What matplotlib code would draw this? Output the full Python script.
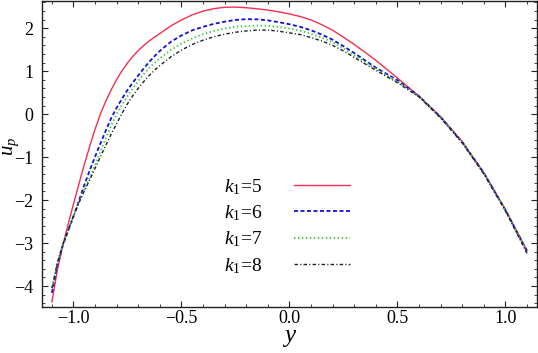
"""
Velocity profile u_p against y for several values of k1.
"""

import matplotlib

matplotlib.use("Agg")
import matplotlib.pyplot as plt
from matplotlib.ticker import MultipleLocator

# values (denser where the curves bend hard)
y_pos = [-1.1, -1.075, -1.05, -1.025, -1.0, -0.975, -0.95, -0.925, -0.9, -0.875,
         -0.85, -0.825, -0.8, -0.775, -0.75, -0.725, -0.7, -0.675, -0.65, -0.625,
         -0.6, -0.55, -0.5, -0.45, -0.4, -0.35, -0.3,
         -0.25, -0.2, -0.15, -0.1, -0.05, 0.0, 0.05, 0.1, 0.15, 0.2,
         0.25, 0.3, 0.35, 0.4,
         0.5, 0.6, 0.7, 0.8, 0.9, 1.0, 1.1]

up_k5 = [-4.37, -3.64, -3.065, -2.565, -2.09, -1.625, -1.175, -0.75, -0.35, 0.01,
         0.305, 0.57, 0.805, 1.01, 1.19, 1.345, 1.48, 1.597, 1.70, 1.79,
         1.875, 2.05, 2.19, 2.31, 2.395, 2.454, 2.485,
         2.49, 2.475, 2.45, 2.42, 2.38, 2.33, 2.27, 2.19, 2.08, 1.95,
         1.79, 1.62, 1.44, 1.25,
         0.84, 0.42, -0.06, -0.64, -1.36, -2.22, -3.17]
up_k6 = [-4.16, -3.52, -3.06, -2.72, -2.38, -2.02, -1.65, -1.31, -0.99, -0.68,
         -0.38, -0.09, 0.15, 0.36, 0.56, 0.735, 0.90, 1.06, 1.21, 1.345,
         1.47, 1.68, 1.83, 1.95, 2.03, 2.10, 2.15,
         2.19, 2.21, 2.205, 2.18, 2.14, 2.09, 2.03, 1.95, 1.85, 1.73,
         1.58, 1.42, 1.25, 1.08,
         0.79, 0.415, -0.07, -0.65, -1.37, -2.23, -3.19]
up_k7 = [-4.05, -3.48, -3.04, -2.70, -2.37, -2.06, -1.76, -1.48, -1.18, -0.87,
         -0.55, -0.26, 0.00, 0.22, 0.42, 0.60, 0.77, 0.93, 1.07, 1.19,
         1.30, 1.49, 1.64, 1.76, 1.86, 1.935, 1.99,
         2.03, 2.05, 2.06, 2.055, 2.03, 1.99, 1.94, 1.87, 1.78, 1.67,
         1.53, 1.37, 1.21, 1.05,
         0.76, 0.41, -0.08, -0.66, -1.38, -2.24, -3.21]
up_k8 = [-4.05, -3.47, -3.04, -2.70, -2.37, -2.06, -1.79, -1.53, -1.26, -0.99,
         -0.72, -0.46, -0.22, 0.02, 0.24, 0.43, 0.60, 0.755, 0.895, 1.02,
         1.13, 1.33, 1.49, 1.62, 1.72, 1.80, 1.86,
         1.905, 1.935, 1.955, 1.955, 1.93, 1.89, 1.85, 1.78, 1.70, 1.60,
         1.47, 1.32, 1.17, 1.02,
         0.73, 0.40, -0.09, -0.67, -1.39, -2.25, -3.24]

labels = [r"$k_{\mathrm{1}}\!=\!\mathrm{5}$", r"$k_{\mathrm{1}}\!=\!\mathrm{6}$",
          r"$k_{\mathrm{1}}\!=\!\mathrm{7}$", r"$k_{\mathrm{1}}\!=\!\mathrm{8}$"]

plt.rcParams["font.family"] = "serif"
plt.rcParams["font.serif"] = ["Liberation Serif", "DejaVu Serif"]
plt.rcParams["mathtext.fontset"] = "custom"
plt.rcParams["mathtext.rm"] = "Liberation Serif"
plt.rcParams["mathtext.it"] = "Liberation Serif:italic"

fig = plt.figure(figsize=(5.38, 3.53), dpi=100)
ax = fig.add_axes([0.078, 0.130, 0.920, 0.867])

l5, = ax.plot(y_pos, up_k5, color="#f2304e", lw=1.0, ls="-")
l6, = ax.plot(y_pos, up_k6, color="#1010e0", lw=1.3, ls=(0, (2.2, 1.4)))
l7, = ax.plot(y_pos, up_k7, color="#40c840", lw=1.3, ls=(0, (0.8, 1.4)))
l8, = ax.plot(y_pos, up_k8, color="#202020", lw=1.0, ls=(0, (2.5, 1.6, 0.8, 1.6)))

ax.set_xlim(-1.146, 1.146)
ax.set_ylim(-4.49, 2.63)

ax.xaxis.set_major_locator(MultipleLocator(0.5))
ax.xaxis.set_minor_locator(MultipleLocator(0.1))
ax.yaxis.set_major_locator(MultipleLocator(1))
ax.yaxis.set_minor_locator(MultipleLocator(0.2))
ax.xaxis.set_major_formatter(plt.FuncFormatter(lambda v, p: f"{v:.1f}".replace("-", "\u2212")))
ax.yaxis.set_major_formatter(plt.FuncFormatter(lambda v, p: f"{v:.0f}".replace("-", "\u2212")))

ax.tick_params(which="both", direction="in", top=True, right=True, colors="#222222",
               labelsize=13, labelcolor="black")
ax.tick_params(which="major", length=4, width=0.8)
ax.tick_params(which="minor", length=2, width=0.6)
ax.tick_params(axis="x", pad=2)
ax.tick_params(axis="y", pad=6)
for s in ax.spines.values():
    s.set_linewidth(1.0)
    s.set_color("#222222")

ax.set_xlabel(r"$y$", fontsize=18)
ax.xaxis.set_label_coords(0.5, -0.066)
# y label placed by hand, it sits tight against the tick labels
fig.text(11 / 538, 1 - 146 / 353, r"$u_p$", fontsize=15, rotation=90,
         ha="center", va="center")

ax.legend(
    [l5, l6, l7, l8],
    labels,
    loc="center",
    bbox_to_anchor=(0.533, 0.359),
    bbox_transform=fig.transFigure,
    frameon=False,
    markerfirst=False,
    handlelength=2.85,
    handletextpad=1.6,
    labelspacing=0.34,
    fontsize=14,
    borderpad=0,
)

fig.savefig("out.png", dpi=100)
